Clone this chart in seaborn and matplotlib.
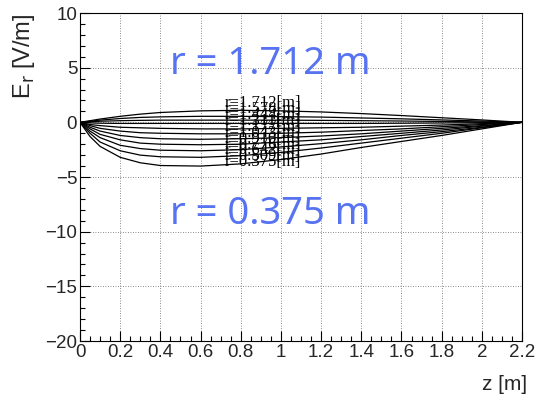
import numpy as np
import pandas as pd
import matplotlib
matplotlib.use("Agg")
import matplotlib.pyplot as plt
import seaborn as sns
from matplotlib.ticker import MultipleLocator

sns.set_theme(style="white")
plt.rcParams['font.family'] = ['Liberation Sans', 'DejaVu Sans']

z_points = [0, 0.05, 0.1, 0.2, 0.3, 0.4, 0.6, 0.8, 1.0, 1.2, 1.4, 1.6, 1.8, 2.0, 2.2]
radii = [1.712, 1.578, 1.444, 1.311, 1.177, 1.043, 0.910, 0.776, 0.642, 0.509, 0.375]
er_1712 = [0, 0.15, 0.3, 0.55, 0.75, 0.9, 1.05, 1.1, 1.05, 0.95, 0.8, 0.62, 0.42, 0.22, 0]
er_1578 = [0, 0.1, 0.2, 0.35, 0.45, 0.5, 0.55, 0.55, 0.52, 0.48, 0.4, 0.32, 0.22, 0.12, 0]
er_1444 = [0, 0.05, 0.1, 0.15, 0.18, 0.2, 0.2, 0.2, 0.2, 0.18, 0.15, 0.12, 0.08, 0.04, 0]
er_1311 = [0, -0.05, -0.08, -0.1, -0.1, -0.1, -0.1, -0.1, -0.1, -0.1, -0.1, -0.08, -0.06, -0.03, 0]
er_1177 = [0, -0.2, -0.3, -0.45, -0.5, -0.55, -0.6, -0.6, -0.55, -0.5, -0.45, -0.35, -0.25, -0.12, 0]
er_1043 = [0, -0.3, -0.55, -0.8, -0.95, -1.0, -1.05, -1.05, -1.0, -0.9, -0.75, -0.6, -0.4, -0.2, 0]
er_0910 = [0, -0.45, -0.8, -1.2, -1.4, -1.5, -1.55, -1.5, -1.4, -1.25, -1.05, -0.8, -0.55, -0.3, 0]
er_0776 = [0, -0.6, -1.1, -1.6, -1.9, -2.0, -2.05, -2.0, -1.8, -1.6, -1.3, -1.0, -0.7, -0.35, 0]
er_0642 = [0, -0.8, -1.4, -2.1, -2.4, -2.55, -2.6, -2.5, -2.25, -1.95, -1.6, -1.2, -0.85, -0.45, 0]
er_0509 = [0, -1.0, -1.8, -2.6, -3.0, -3.15, -3.2, -3.05, -2.75, -2.35, -1.9, -1.45, -1.0, -0.5, 0]
er_0375 = [0, -1.3, -2.2, -3.2, -3.7, -3.95, -4.0, -3.8, -3.4, -2.9, -2.3, -1.75, -1.2, -0.6, 0]
series = [er_1712, er_1578, er_1444, er_1311, er_1177, er_1043,
          er_0910, er_0776, er_0642, er_0509, er_0375]
labels = ["r=%.3f[m]" % r for r in radii]
x_ticks = [0, 0.2, 0.4, 0.6, 0.8, 1, 1.2, 1.4, 1.6, 1.8, 2, 2.2]
x_tick_labels = ["0", "0.2", "0.4", "0.6", "0.8", "1", "1.2", "1.4", "1.6", "1.8", "2", "2.2"]
y_ticks = [-20, -15, -10, -5, 0, 5, 10]
y_tick_labels = ["\u221220", "\u221215", "\u221210", "\u22125", "0", "5", "10"]

rows = []
for r, vals in zip(radii, series):
    for z, v in zip(z_points, vals):
        rows.append({"r": r, "z": z, "E": v})
df = pd.DataFrame(rows)

fig = plt.figure(figsize=(5.41, 3.98), dpi=100)
ax = fig.add_axes([80/541, 57/398, 442/541, 328/398])

sns.lineplot(data=df, x="z", y="E", units="r", estimator=None,
             color="black", lw=0.9, ax=ax, legend=False)

ax.set_xlim(0, 2.2)
ax.set_ylim(-20, 10)
ax.set_xticks(x_ticks)
ax.set_xticklabels(x_tick_labels)
ax.set_yticks(y_ticks)
ax.set_yticklabels(y_tick_labels)
ax.xaxis.set_minor_locator(MultipleLocator(0.05))
ax.yaxis.set_minor_locator(MultipleLocator(1))
ax.tick_params(axis="both", which="major", direction="in", length=7, width=0.8,
               labelsize=13.5, color="black", bottom=True, left=True, pad=2)
ax.tick_params(axis="both", which="minor", direction="in", length=3.5, width=0.8,
               color="black", bottom=True, left=True)
ax.grid(True, which="major", linestyle=(0, (1, 2)), color="#666666", lw=0.6)
for s in ax.spines.values():
    s.set_color("black")
    s.set_linewidth(0.8)

ax.set_xlabel("")
ax.set_ylabel("")
fig.text(527/541, 1 - 384/398, "z [m]", ha="right", va="center", fontsize=15)
fig.text(24/541, 1 - 13/398, r"E$_{\mathrm{r}}$ [V/m]", ha="center", va="top",
         rotation=90, fontsize=17)

# stacked labels
ytop = 1.75
for i, lab in enumerate(labels):
    ax.text(0.72, ytop - i * 0.54, lab, fontsize=12, family="Liberation Serif",
            ha="left", va="center", color="black")

blue = "#5873f2"
ax.text(0.946, 5.3, "r = 1.712 m", fontsize=27.5, color=blue, ha="center",
        va="center", family="Noto Sans")
ax.text(0.946, -8.4, "r = 0.375 m", fontsize=27.5, color=blue, ha="center",
        va="center", family="Noto Sans")

fig.savefig("out.png", dpi=100)
